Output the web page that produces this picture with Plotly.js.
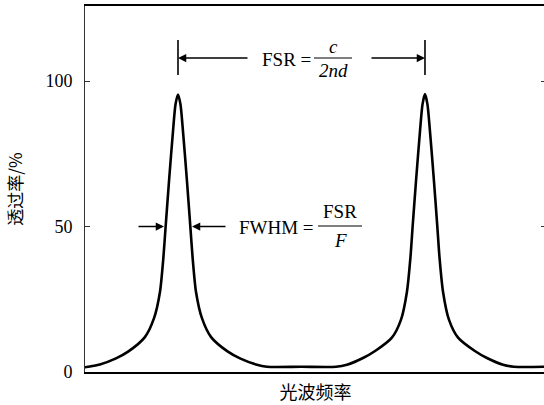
<!DOCTYPE html>
<html>
<head>
<meta charset="utf-8">
<script src="https://cdn.plot.ly/plotly-3.0.1.min.js"></script>
<style>
html,body{margin:0;padding:0;overflow:hidden;background:#fff;}
#chart{width:550px;height:405px;}
</style>
</head>
<body>
<div id="chart"></div>
<script>
// Optical frequency (in units of FSR, first peak at 0)
const freq = [
  -0.377, -0.356, -0.316, -0.251, -0.202, -0.134, -0.097, -0.073, -0.059, -0.050, -0.036, -0.020, -0.010, 0.000,
   0.010,  0.020,  0.036,  0.050,  0.059,  0.073,  0.097,  0.134,  0.202,  0.251,  0.316,  0.360,  0.500, 0.640,
   0.684,  0.749,  0.798,  0.866,  0.903,  0.927,  0.941,  0.950,  0.964,  0.980,  0.990,  1.000,
   1.010,  1.020,  1.036,  1.050,  1.059,  1.073,  1.097,  1.134,  1.202,  1.251,  1.316,  1.360,  1.490
];
// Transmission (%)
const transmission = [
   1.6,  1.9,  2.6,  4.7,  7.0, 12.0, 18.5, 27.5, 39.5, 50.0, 66.0, 83.0, 92.0, 95.4,
  92.0, 83.0, 66.0, 50.0, 39.5, 27.5, 18.5, 12.0,  7.0,  4.7,  2.6,  1.8,  1.8,  1.8,
   2.5,  4.8,  7.2, 11.8, 18.0, 27.6, 39.2, 50.0, 66.0, 83.0, 92.0, 95.5,
  92.0, 83.0, 66.0, 50.0, 39.2, 27.6, 18.0, 11.8,  7.2,  4.8,  2.5,  1.8,  1.8
];
const yTickVals = [0, 50, 100];
const yTickText = ['0', '50', '100'];
const yTitle = '透过率/%';
const xTitle = '光波频率';

(function () {
  // locate the two transmission peaks from the data
  var pk = [];
  for (var i = 1; i < transmission.length - 1; i++) {
    if (transmission[i] > 50 && transmission[i] >= transmission[i-1] && transmission[i] >= transmission[i+1]) pk.push(freq[i]);
  }
  var L = 85, R = 546, T = 6, B = 372, WW = 550, HH = 405;
  function fx(x) { return (x - L) / (R - L); }
  function fy(y) { return (B - y) / (B - T); }
  var fam = 'Liberation Serif';
  var cj = 'Noto Sans CJK SC';
  function tfont() { return {family: fam, size: 19, color: '#000'}; }
  function arr(o) {
    o.showarrow = true; o.arrowhead = 2; o.arrowsize = 1.1; o.arrowwidth = 1.5;
    o.arrowcolor = '#000'; o.text = ''; o.standoff = 0; o.startstandoff = 0;
    o.axref = 'pixel'; o.ayref = 'pixel'; o.ay = 0;
    return o;
  }
  function txt(t, xpix, ypix, anchor) {
    return {text: t, x: fx(xpix), xref: 'paper', xanchor: anchor, y: fy(ypix), yref: 'paper', yanchor: 'middle', showarrow: false, font: tfont()};
  }

  var anns = [
    arr({x: pk[0], xref: 'x', y: fy(58), yref: 'paper', ax: 71}),
    arr({x: pk[1], xref: 'x', y: fy(58), yref: 'paper', ax: -55}),
    arr({x: fx(164), xref: 'paper', y: 50, yref: 'y', ax: -27}),
    arr({x: fx(192), xref: 'paper', y: 50, yref: 'y', ax: 35}),
    txt('FSR =', 260, 59, 'left'),
    txt('<i>c</i>', 333, 46, 'center'),
    txt('<i>2nd</i>', 333, 71, 'center'),
    txt('FWHM =', 237, 227, 'left'),
    txt('FSR', 340, 212, 'center'),
    txt('<i>F</i>', 340, 240, 'center')
  ];

  var shp = [
    {type: 'line', xref: 'x', yref: 'paper', x0: pk[0], x1: pk[0], y0: fy(40), y1: fy(75), line: {color: '#000', width: 1.6}},
    {type: 'line', xref: 'x', yref: 'paper', x0: pk[1], x1: pk[1], y0: fy(40), y1: fy(75), line: {color: '#000', width: 1.6}},
    {type: 'line', xref: 'paper', yref: 'paper', x0: fx(314), x1: fx(352), y0: fy(58), y1: fy(58), line: {color: '#000', width: 1}},
    {type: 'line', xref: 'paper', yref: 'paper', x0: fx(318), x1: fx(362), y0: fy(226), y1: fy(226), line: {color: '#000', width: 1}}
  ];

  var tr = {
    x: freq, y: transmission, type: 'scatter', mode: 'lines',
    line: {color: '#000', width: 2.6, shape: 'spline', smoothing: 0.7},
    hoverinfo: 'skip', showlegend: false
  };

  var lay = {
    width: WW, height: HH,
    margin: {l: L, r: WW - R, t: T, b: HH - B},
    paper_bgcolor: '#fff', plot_bgcolor: '#fff',
    font: {family: fam, color: '#000'},
    showlegend: false,
    xaxis: {
      range: [-0.3765, 1.49], showgrid: false, zeroline: false,
      showline: true, linewidth: 2, linecolor: '#000', mirror: true,
      ticks: '', showticklabels: false,
      title: {text: xTitle, font: {family: cj, size: 18, color: '#000'}, standoff: 13}
    },
    yaxis: {
      range: [0, 125.8], showgrid: false, zeroline: false,
      showline: true, linewidth: 1, linecolor: '#333', mirror: 'ticks',
      ticks: 'inside', ticklen: 5, tickwidth: 1, tickcolor: '#333',
      tickvals: yTickVals, ticktext: yTickText,
      tickfont: {family: fam, size: 18, color: '#000'},
      ticklabelstandoff: 8,
      title: {text: yTitle, font: {family: cj, size: 17, color: '#000'}, standoff: 18}
    },
    annotations: anns,
    shapes: shp
  };

  Plotly.newPlot('chart', [tr], lay, {staticPlot: true, displayModeBar: false});
})();
</script>
</body>
</html>
